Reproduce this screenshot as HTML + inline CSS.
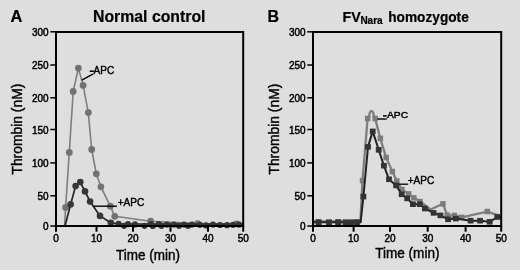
<!DOCTYPE html>
<html><head><meta charset="utf-8"><style>
html,body{margin:0;padding:0;background:#dedede;}
body{width:520px;height:270px;overflow:hidden;}
svg{display:block;filter:grayscale(1);}
text{font-family:"Liberation Sans",sans-serif;fill:#000;stroke:#000;stroke-width:0.3px;}
.b{font-weight:bold;stroke-width:0.2px;}
.t{font-size:10px;}
.t text{stroke-width:0.45px;}
.ax{stroke-width:0.4px;}
.lab{stroke-width:0.42px;}
</style></head><body>
<svg width="520" height="270" viewBox="0 0 520 270">
<rect x="0" y="0" width="520" height="270" fill="#dedede"/>
<text class="b" x="10.60" y="21.50" font-size="16.4">A</text>
<text class="b" x="93" y="21.5" font-size="16" textLength="112.5" lengthAdjust="spacingAndGlyphs">Normal control</text>
<polyline fill="none" stroke="#7e7e7e" stroke-width="1.60" stroke-linejoin="round" points="64.6,226.0 65.6,207.4 69.3,152.4 73.2,91.4 78.4,68.1 83.1,85.4 88.3,112.6 91.7,149.5 96.3,173.8 100.9,186.8 110.3,206.2 114.8,216.3 150.6,221.2 197.6,223.6 236.6,223.8 243.0,223.8"/>
<g fill="#727272"><circle cx="65.6" cy="207.4" r="3.40"/><circle cx="69.3" cy="152.4" r="3.40"/><circle cx="73.2" cy="91.4" r="3.40"/><circle cx="78.4" cy="68.1" r="3.40"/><circle cx="83.1" cy="85.4" r="3.40"/><circle cx="88.3" cy="112.6" r="3.40"/><circle cx="91.7" cy="149.5" r="3.40"/><circle cx="96.3" cy="173.8" r="3.40"/><circle cx="100.9" cy="186.8" r="3.40"/><circle cx="110.3" cy="206.2" r="3.40"/><circle cx="114.8" cy="216.3" r="3.40"/><circle cx="150.6" cy="221.2" r="3.40"/><circle cx="197.6" cy="223.6" r="3.40"/><circle cx="236.6" cy="223.8" r="3.40"/></g>
<polyline fill="none" stroke="#222222" stroke-width="1.70" stroke-linejoin="round" points="65.0,226.0 70.6,204.4 75.6,186.1 80.3,182.1 85.0,191.4 90.1,201.6 100.0,215.9 110.8,222.8 118.6,223.8 243.0,224.4"/>
<g fill="#363636"><circle cx="70.6" cy="204.4" r="3.30"/><circle cx="75.6" cy="186.1" r="3.30"/><circle cx="80.3" cy="182.1" r="3.30"/><circle cx="85.0" cy="191.4" r="3.30"/><circle cx="90.1" cy="201.6" r="3.30"/><circle cx="100.0" cy="215.9" r="3.30"/><circle cx="110.8" cy="222.8" r="3.30"/></g>
<g fill="#363636"><circle cx="118.6" cy="223.8" r="3.10"/><circle cx="124.0" cy="225.8" r="3.10"/><circle cx="128.0" cy="224.2" r="3.10"/><circle cx="135.0" cy="224.4" r="3.10"/><circle cx="144.5" cy="225.8" r="3.10"/><circle cx="151.0" cy="224.0" r="3.10"/><circle cx="152.8" cy="226.0" r="3.10"/><circle cx="158.8" cy="224.2" r="3.10"/><circle cx="161.5" cy="225.8" r="3.10"/><circle cx="167.0" cy="224.6" r="3.10"/><circle cx="174.0" cy="224.6" r="3.10"/><circle cx="179.0" cy="225.8" r="3.10"/><circle cx="184.0" cy="224.6" r="3.10"/><circle cx="188.0" cy="225.8" r="3.10"/><circle cx="192.0" cy="224.6" r="3.10"/><circle cx="200.0" cy="224.8" r="3.10"/><circle cx="206.0" cy="225.4" r="3.10"/><circle cx="213.0" cy="224.6" r="3.10"/><circle cx="220.0" cy="225.0" r="3.10"/><circle cx="227.0" cy="225.2" r="3.10"/><circle cx="233.0" cy="224.8" r="3.10"/><circle cx="239.0" cy="224.6" r="3.10"/></g>
<line x1="81.8" y1="80.1" x2="92.8" y2="74.1" stroke="#000" stroke-width="1.4"/>
<line x1="89.7" y1="71.2" x2="93.9" y2="71.2" stroke="#000" stroke-width="1.5"/>
<text class="lab" x="93.6" y="74" font-size="10.2" textLength="20.6" lengthAdjust="spacingAndGlyphs">APC</text>
<line x1="93.7" y1="206.2" x2="117" y2="206.2" stroke="#000" stroke-width="1.4"/>
<text class="lab" x="117.7" y="206.1" font-size="10.3" textLength="26.6" lengthAdjust="spacingAndGlyphs">+APC</text>
<rect x="56.0" y="32" width="187.2" height="194" fill="none" stroke="#000" stroke-width="2"/>
<g stroke="#000" stroke-width="1.5"><line x1="50.3" y1="31.80" x2="56.0" y2="31.80"/><line x1="50.3" y1="65.00" x2="56.0" y2="65.00"/><line x1="50.3" y1="97.80" x2="56.0" y2="97.80"/><line x1="50.3" y1="129.50" x2="56.0" y2="129.50"/><line x1="50.3" y1="162.90" x2="56.0" y2="162.90"/><line x1="50.3" y1="195.80" x2="56.0" y2="195.80"/><line x1="50.3" y1="226.00" x2="56.0" y2="226.00"/></g>
<g stroke="#000" stroke-width="2"><line x1="56.0" y1="226" x2="56.0" y2="231.7"/><line x1="96.5" y1="226" x2="96.5" y2="231.7"/><line x1="133.0" y1="226" x2="133.0" y2="231.7"/><line x1="170.5" y1="226" x2="170.5" y2="231.7"/><line x1="208.0" y1="226" x2="208.0" y2="231.7"/><line x1="243.2" y1="226" x2="243.2" y2="231.7"/></g>
<g class="t" text-anchor="end"><text x="48.6" y="35.90">300</text><text x="48.6" y="69.10">250</text><text x="48.6" y="101.90">200</text><text x="48.6" y="133.60">150</text><text x="48.6" y="167.00">100</text><text x="48.6" y="199.90">50</text><text x="48.6" y="230.10">0</text></g>
<g class="t" text-anchor="middle"><text x="56.0" y="241.5">0</text><text x="96.5" y="241.5">10</text><text x="133.0" y="241.5">20</text><text x="170.5" y="241.5">30</text><text x="208.0" y="241.5">40</text><text x="243.2" y="241.5">50</text></g>
<text x="116.00" y="260.40" font-size="14" class="ax" textLength="64.0" lengthAdjust="spacingAndGlyphs">Time (min)</text>
<text transform="translate(22.10,174.6) rotate(-90)" font-size="14" class="ax" textLength="91" lengthAdjust="spacingAndGlyphs">Thrombin (nM)</text>
<text class="b" x="267.60" y="21.60" font-size="16">B</text>
<text class="b" x="342.6" y="21.5" font-size="14.3">FV</text><text class="b" x="360.4" y="23.8" font-size="10">Nara</text><text class="b" x="388.2" y="21.5" font-size="13.8" textLength="80.6" lengthAdjust="spacingAndGlyphs">homozygote</text>
<path fill="none" stroke="#7e7e7e" stroke-width="2.3" stroke-linejoin="round" d="M313,221.5 L360.4,221.5 L362.5,180.6 L367.6,118.4 L369,117.5 C369.6,108.6 373.4,108.6 374,117.5 L375.1,118.4 L380.3,138.3 L386.1,157.4 L392.4,171.6 L396.8,181.1 L401.9,189.5 L408.7,194 L413.8,197.8 L420,201.5 L430.5,209.5 L443,203.8 L447.2,215.2 L454.4,215.4 L461.7,217.3 L487.3,211.6 L500,215.8"/>
<g fill="#7c7c7c"><rect x="315.4" y="219.1" width="5.5" height="5.5"/><rect x="335.1" y="219.1" width="5.5" height="5.5"/><rect x="353.8" y="219.1" width="5.5" height="5.5"/><rect x="359.8" y="177.8" width="5.5" height="5.5"/><rect x="364.9" y="115.7" width="5.5" height="5.5"/><rect x="372.4" y="115.7" width="5.5" height="5.5"/><rect x="377.6" y="135.6" width="5.5" height="5.5"/><rect x="383.4" y="154.7" width="5.5" height="5.5"/><rect x="389.6" y="168.8" width="5.5" height="5.5"/><rect x="394.1" y="178.3" width="5.5" height="5.5"/><rect x="399.1" y="186.8" width="5.5" height="5.5"/><rect x="405.9" y="191.2" width="5.5" height="5.5"/><rect x="411.1" y="195.1" width="5.5" height="5.5"/><rect x="417.2" y="198.8" width="5.5" height="5.5"/><rect x="440.2" y="201.1" width="5.5" height="5.5"/><rect x="444.4" y="212.4" width="5.5" height="5.5"/><rect x="451.6" y="212.7" width="5.5" height="5.5"/><rect x="458.9" y="214.6" width="5.5" height="5.5"/><rect x="484.6" y="208.8" width="5.5" height="5.5"/></g>
<polyline fill="none" stroke="#222222" stroke-width="2.00" stroke-linejoin="round" points="313.0,222.3 360.6,222.3 363.4,196.6 368.0,146.9 372.7,131.4 378.7,149.8 383.9,165.7 389.0,179.3 396.1,185.4 401.7,194.3 407.2,198.4 412.9,204.2 419.8,204.2 424.9,208.5 433.6,212.9 440.4,215.4 448.1,219.3 455.9,218.6 470.6,220.7 480.1,220.7 489.7,221.8 497.3,217.0 501.0,217.0"/>
<g fill="#333333"><rect x="315.8" y="219.4" width="5.8" height="5.6"/><rect x="326.1" y="219.4" width="5.8" height="5.6"/><rect x="335.4" y="219.4" width="5.8" height="5.6"/><rect x="342.6" y="219.4" width="5.8" height="5.6"/><rect x="348.1" y="219.4" width="5.8" height="5.6"/><rect x="354.1" y="219.4" width="5.8" height="5.6"/><rect x="360.5" y="193.8" width="5.8" height="5.6"/><rect x="365.1" y="144.1" width="5.8" height="5.6"/><rect x="369.8" y="128.6" width="5.8" height="5.6"/><rect x="375.8" y="147.0" width="5.8" height="5.6"/><rect x="381.0" y="162.9" width="5.8" height="5.6"/><rect x="386.1" y="176.5" width="5.8" height="5.6"/><rect x="393.2" y="182.6" width="5.8" height="5.6"/><rect x="398.8" y="191.5" width="5.8" height="5.6"/><rect x="404.3" y="195.6" width="5.8" height="5.6"/><rect x="410.0" y="201.4" width="5.8" height="5.6"/><rect x="416.9" y="201.4" width="5.8" height="5.6"/><rect x="422.0" y="205.7" width="5.8" height="5.6"/><rect x="430.7" y="210.1" width="5.8" height="5.6"/><rect x="437.5" y="212.6" width="5.8" height="5.6"/><rect x="445.2" y="216.5" width="5.8" height="5.6"/><rect x="453.0" y="215.8" width="5.8" height="5.6"/><rect x="467.7" y="217.9" width="5.8" height="5.6"/><rect x="477.2" y="217.9" width="5.8" height="5.6"/><rect x="486.8" y="219.0" width="5.8" height="5.6"/><rect x="494.4" y="214.2" width="5.8" height="5.6"/></g>
<line x1="377.4" y1="119" x2="386.7" y2="119" stroke="#000" stroke-width="1.4"/>
<line x1="383" y1="115.9" x2="386.7" y2="115.9" stroke="#000" stroke-width="1.5"/>
<text class="lab" x="386.9" y="118.3" font-size="9.8" textLength="21.2" lengthAdjust="spacingAndGlyphs">APC</text>
<line x1="399" y1="184.2" x2="408.2" y2="184.2" stroke="#000" stroke-width="1.3"/>
<text class="lab" x="407.7" y="183.9" font-size="10" textLength="26.6" lengthAdjust="spacingAndGlyphs">+APC</text>
<rect x="313.0" y="32" width="188.2" height="194" fill="none" stroke="#000" stroke-width="2"/>
<g stroke="#000" stroke-width="1.5"><line x1="307.3" y1="31.80" x2="313.0" y2="31.80"/><line x1="307.3" y1="65.00" x2="313.0" y2="65.00"/><line x1="307.3" y1="97.80" x2="313.0" y2="97.80"/><line x1="307.3" y1="129.50" x2="313.0" y2="129.50"/><line x1="307.3" y1="162.90" x2="313.0" y2="162.90"/><line x1="307.3" y1="195.80" x2="313.0" y2="195.80"/><line x1="307.3" y1="226.00" x2="313.0" y2="226.00"/></g>
<g stroke="#000" stroke-width="2"><line x1="313.0" y1="226" x2="313.0" y2="231.7"/><line x1="353.6" y1="226" x2="353.6" y2="231.7"/><line x1="390.0" y1="226" x2="390.0" y2="231.7"/><line x1="427.7" y1="226" x2="427.7" y2="231.7"/><line x1="465.6" y1="226" x2="465.6" y2="231.7"/><line x1="501.2" y1="226" x2="501.2" y2="231.7"/></g>
<g class="t" text-anchor="end"><text x="305.6" y="35.90">300</text><text x="305.6" y="69.10">250</text><text x="305.6" y="101.90">200</text><text x="305.6" y="133.60">150</text><text x="305.6" y="167.00">100</text><text x="305.6" y="199.90">50</text><text x="305.6" y="230.10">0</text></g>
<g class="t" text-anchor="middle"><text x="313.0" y="241.5">0</text><text x="353.6" y="241.5">10</text><text x="390.0" y="241.5">20</text><text x="427.7" y="241.5">30</text><text x="465.6" y="241.5">40</text><text x="501.2" y="241.5">50</text></g>
<text x="375.20" y="257.70" font-size="14" class="ax" textLength="64.3" lengthAdjust="spacingAndGlyphs">Time (min)</text>
<text transform="translate(279.40,174.6) rotate(-90)" font-size="14" class="ax" textLength="91" lengthAdjust="spacingAndGlyphs">Thrombin (nM)</text>
</svg>
</body></html>
